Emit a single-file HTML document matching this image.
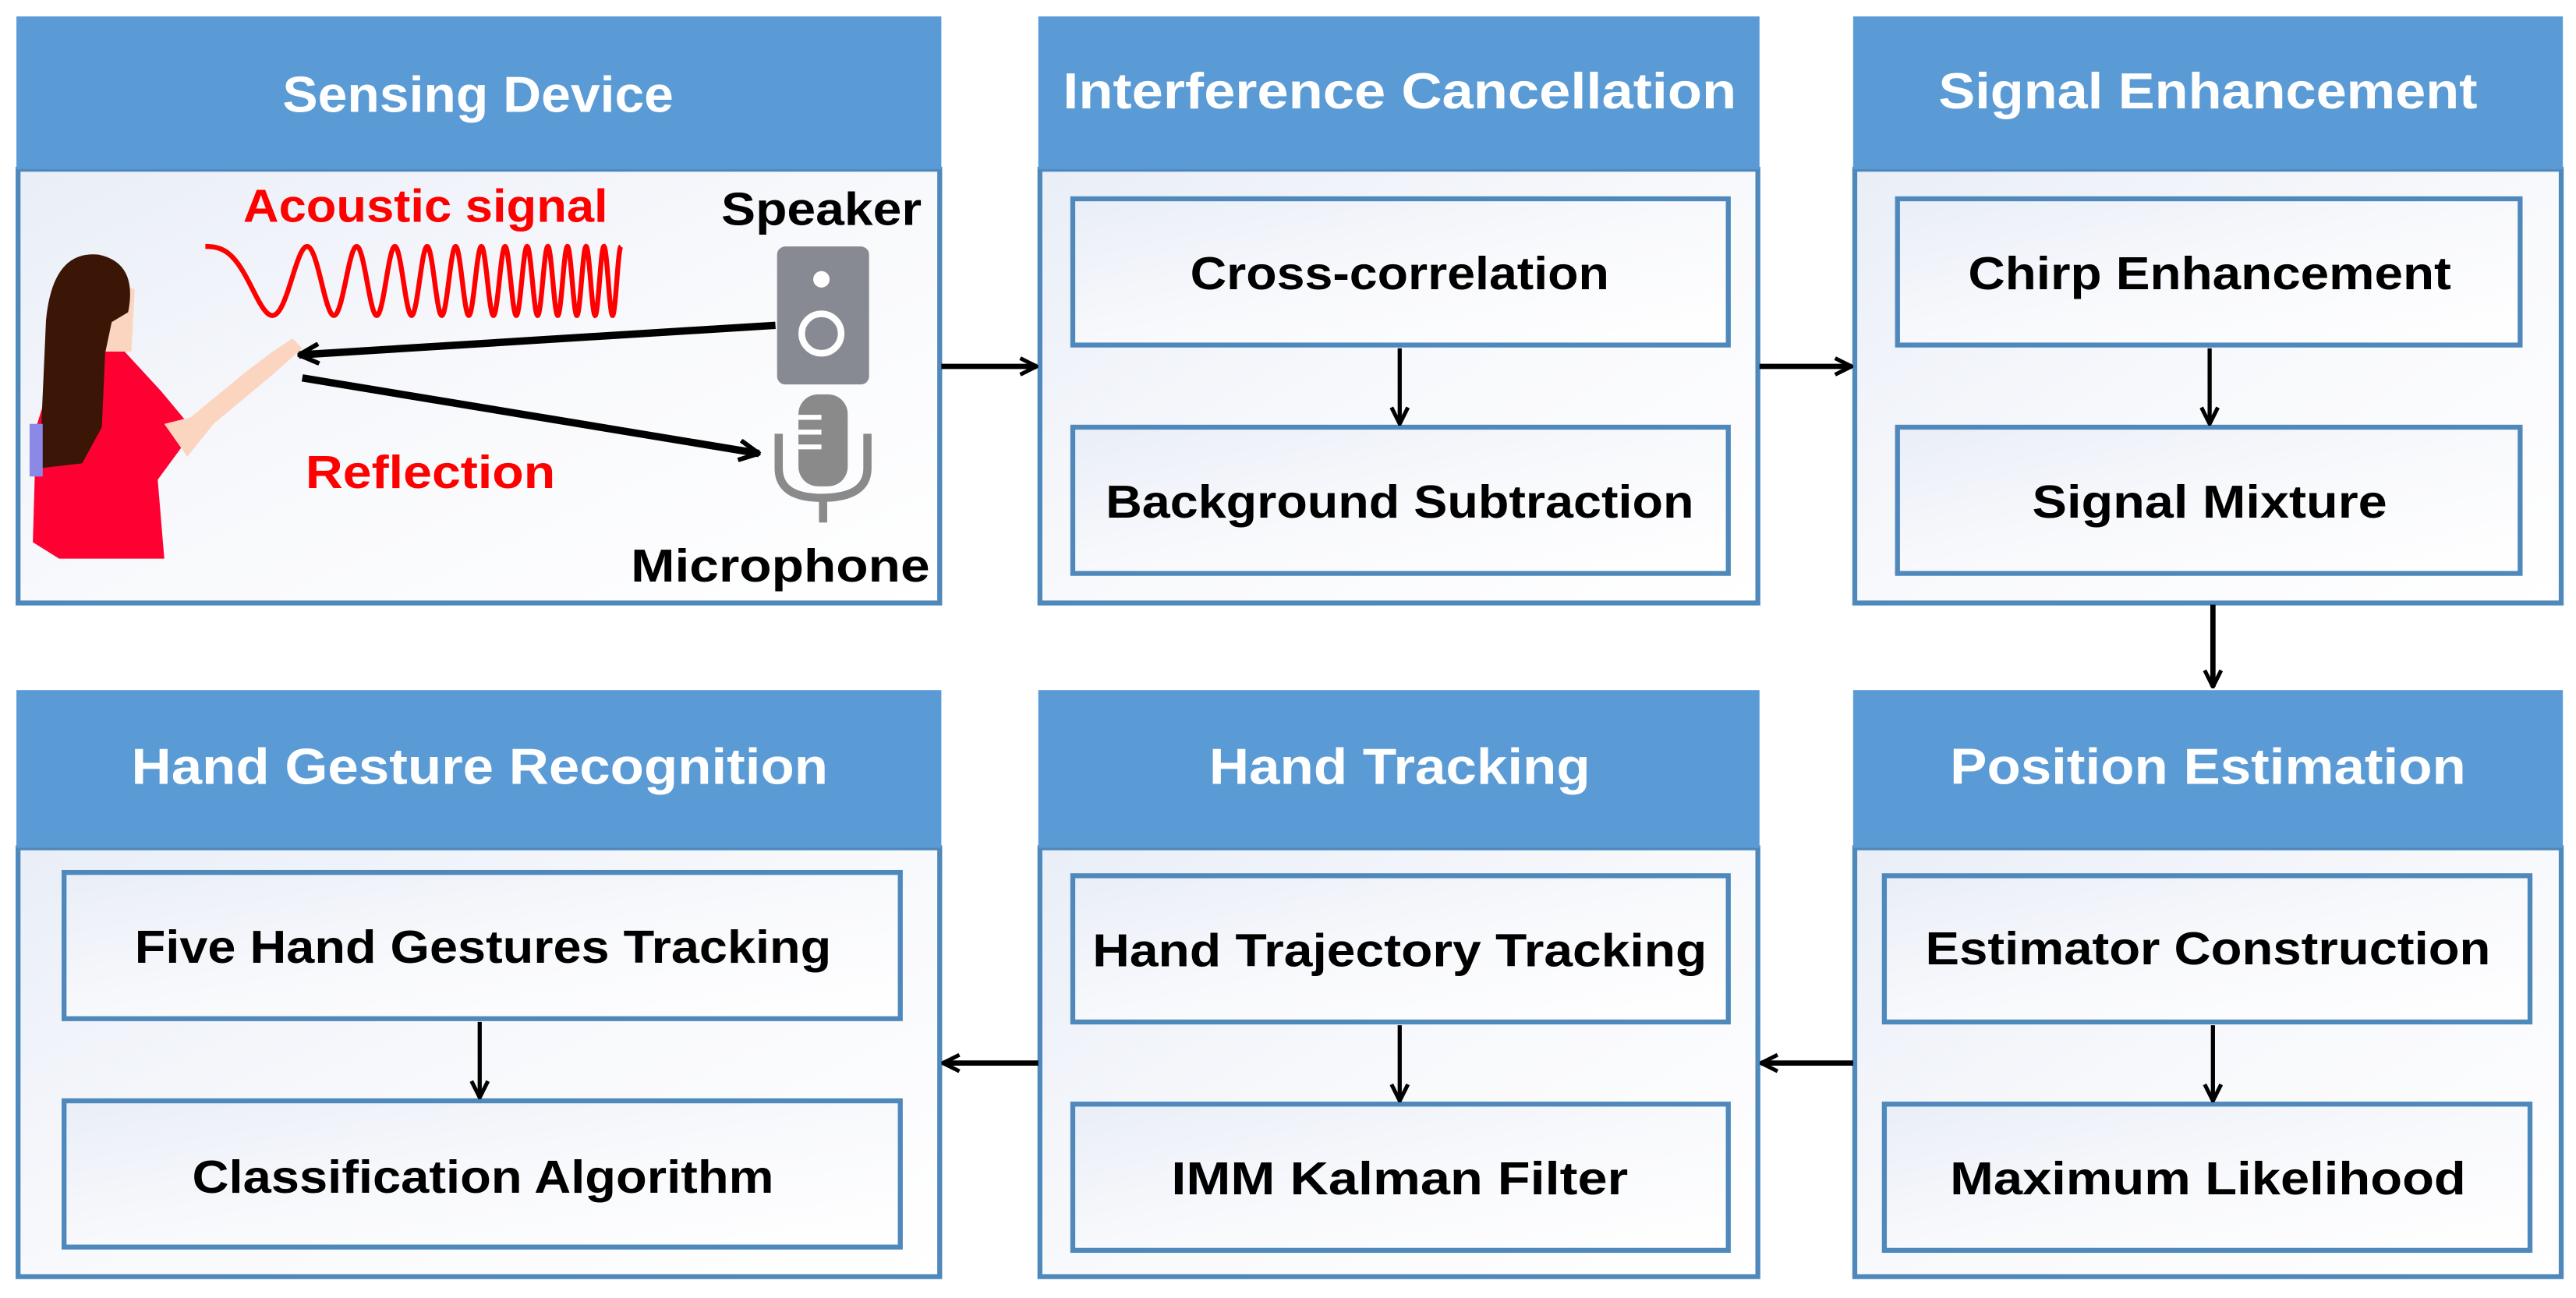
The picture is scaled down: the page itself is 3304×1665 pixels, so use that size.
<!DOCTYPE html>
<html><head><meta charset="utf-8"><style>
html,body{margin:0;padding:0;background:#fff;}
svg{display:block;}
text{font-family:"Liberation Sans",sans-serif;font-weight:bold;}
</style></head><body>
<svg width="3304" height="1665" viewBox="0 0 1568 790" preserveAspectRatio="none" xmlns="http://www.w3.org/2000/svg">
<defs>
<linearGradient id="g" x1="0" y1="0" x2="1" y2="1"><stop offset="0" stop-color="#e9eef7"/><stop offset="0.5" stop-color="#f8f9fc"/><stop offset="1" stop-color="#ffffff"/></linearGradient>
<marker id="ah" viewBox="0 0 12 12" refX="11" refY="6" markerWidth="12" markerHeight="12" markerUnits="userSpaceOnUse" orient="auto"><path d="M1,1 L11,6 L1,11" fill="none" stroke="#000" stroke-width="2.4"/></marker>
<marker id="ah2" viewBox="0 0 14 14" refX="13" refY="7" markerWidth="14" markerHeight="14" markerUnits="userSpaceOnUse" orient="auto"><path d="M1,1 L13,7 L1,13" fill="none" stroke="#000" stroke-width="2.8"/></marker>
</defs>

<g stroke="#4f88bb" stroke-width="3">
<rect x="11" y="103" width="561" height="264" fill="url(#g)"/>
<rect x="633" y="103" width="437" height="264" fill="url(#g)"/>
<rect x="1129" y="103" width="430" height="264" fill="url(#g)"/>
<rect x="11" y="516" width="561" height="261" fill="url(#g)"/>
<rect x="633" y="516" width="437" height="261" fill="url(#g)"/>
<rect x="1129" y="516" width="430" height="261" fill="url(#g)"/>
</g>
<g fill="#5b9bd5">
<rect x="10" y="10" width="563" height="93"/>
<rect x="632" y="10" width="439" height="93"/>
<rect x="1128" y="10" width="432" height="93"/>
<rect x="10" y="420" width="563" height="96"/>
<rect x="632" y="420" width="439" height="96"/>
<rect x="1128" y="420" width="432" height="96"/>
</g>
<g fill="#fff" font-size="31" text-anchor="middle">
<text x="291" y="68" textLength="238" lengthAdjust="spacingAndGlyphs">Sensing Device</text>
<text x="852" y="66" textLength="410" lengthAdjust="spacingAndGlyphs">Interference Cancellation</text>
<text x="1344" y="66" textLength="328" lengthAdjust="spacingAndGlyphs">Signal Enhancement</text>
<text x="292" y="477" textLength="424" lengthAdjust="spacingAndGlyphs">Hand Gesture Recognition</text>
<text x="852" y="477" textLength="232" lengthAdjust="spacingAndGlyphs">Hand Tracking</text>
<text x="1344" y="477" textLength="314" lengthAdjust="spacingAndGlyphs">Position Estimation</text>
</g>

<g stroke="#4f88bb" stroke-width="3" fill="url(#g)">
<rect x="653" y="121" width="399" height="89"/>
<rect x="653" y="260" width="399" height="89"/>
<rect x="1155" y="121" width="379" height="89"/>
<rect x="1155" y="260" width="379" height="89"/>
<rect x="39" y="531" width="509" height="89"/>
<rect x="39" y="670" width="509" height="89"/>
<rect x="653" y="533" width="399" height="89"/>
<rect x="653" y="672" width="399" height="89"/>
<rect x="1147" y="533" width="393" height="89"/>
<rect x="1147" y="672" width="393" height="89"/>
</g>
<g fill="#000" font-size="28" text-anchor="middle">
<text x="852" y="176" textLength="255" lengthAdjust="spacingAndGlyphs">Cross-correlation</text>
<text x="852" y="315" textLength="358" lengthAdjust="spacingAndGlyphs">Background Subtraction</text>
<text x="1345" y="176" textLength="294" lengthAdjust="spacingAndGlyphs">Chirp Enhancement</text>
<text x="1345" y="315" textLength="216" lengthAdjust="spacingAndGlyphs">Signal Mixture</text>
<text x="294" y="586" textLength="424" lengthAdjust="spacingAndGlyphs">Five Hand Gestures Tracking</text>
<text x="294" y="726" textLength="354" lengthAdjust="spacingAndGlyphs">Classification Algorithm</text>
<text x="852" y="588" textLength="374" lengthAdjust="spacingAndGlyphs">Hand Trajectory Tracking</text>
<text x="852" y="727" textLength="278" lengthAdjust="spacingAndGlyphs">IMM Kalman Filter</text>
<text x="1344" y="587" textLength="344" lengthAdjust="spacingAndGlyphs">Estimator Construction</text>
<text x="1344" y="727" textLength="314" lengthAdjust="spacingAndGlyphs">Maximum Likelihood</text>
</g>

<g stroke="#000" stroke-width="3.2" fill="none">
<line x1="573" y1="223" x2="631" y2="223" marker-end="url(#ah)"/>
<line x1="1071" y1="223" x2="1127" y2="223" marker-end="url(#ah)"/>
<line x1="1347" y1="368" x2="1347" y2="418" marker-end="url(#ah)"/>
<line x1="1128" y1="647" x2="1072" y2="647" marker-end="url(#ah)"/>
<line x1="632" y1="647" x2="574" y2="647" marker-end="url(#ah)"/>
<g stroke-width="2.5">
<line x1="852" y1="212" x2="852" y2="258" marker-end="url(#ah)"/>
<line x1="1345" y1="212" x2="1345" y2="258" marker-end="url(#ah)"/>
<line x1="292" y1="622" x2="292" y2="668" marker-end="url(#ah)"/>
<line x1="852" y1="624" x2="852" y2="670" marker-end="url(#ah)"/>
<line x1="1347" y1="624" x2="1347" y2="670" marker-end="url(#ah)"/>
</g>
</g>

<text x="259" y="135" fill="#ff0000" font-size="28" text-anchor="middle" textLength="222" lengthAdjust="spacingAndGlyphs">Acoustic signal</text>
<text x="262" y="297" fill="#ff0000" font-size="28" text-anchor="middle" textLength="152" lengthAdjust="spacingAndGlyphs">Reflection</text>
<text x="500" y="137" fill="#000" font-size="28" text-anchor="middle" textLength="122" lengthAdjust="spacingAndGlyphs">Speaker</text>
<text x="475" y="354" fill="#000" font-size="28" text-anchor="middle" textLength="182" lengthAdjust="spacingAndGlyphs">Microphone</text>
<path id="chirp" d="" fill="none" stroke="#ff0000" stroke-width="3"/>
<rect x="473" y="150" width="56" height="84" rx="5" fill="#888a93"/>
<circle cx="500" cy="170" r="5" fill="#fff"/>
<circle cx="500" cy="203" r="12" fill="none" stroke="#fff" stroke-width="4"/>
<rect x="486" y="240" width="30" height="56" rx="12" fill="#8a8a8a"/>
<g stroke="#fff" stroke-width="3"><line x1="486" y1="254" x2="500" y2="254"/><line x1="486" y1="263" x2="500" y2="263"/><line x1="486" y1="272" x2="500" y2="272"/></g>
<path d="M474,264 L474,285 Q474,303 500,303 Q528,303 528,285 L528,264" fill="none" stroke="#8a8a8a" stroke-width="5"/>
<line x1="501" y1="303" x2="501" y2="318" stroke="#8a8a8a" stroke-width="5"/>
<line x1="472" y1="198" x2="182" y2="216" stroke="#000" stroke-width="4.5" marker-end="url(#ah2)"/>
<line x1="184" y1="230" x2="462" y2="276" stroke="#000" stroke-width="4.5" marker-end="url(#ah2)"/>
<!-- woman -->
<path d="M20,330 L22,260 L36,215 L74,212 L98,238 L118,262 L96,292 L100,340 L36,340 Z" fill="#ff0033"/>
<path d="M100,258 L114,278 L130,258 L166,228 L184,212 L178,206 L166,214 L150,226 L116,254 Z" fill="#fcd5c1"/>
<path d="M58,170 L82,176 L80,214 L60,214 Z" fill="#fcd5c1"/>
<path d="M24,285 L28,195 Q32,152 60,155 Q84,160 78,190 L68,196 L64,215 L62,260 L50,282 Z" fill="#3b1606"/>
<path d="M18,258 L26,258 L26,290 L18,290 Z" fill="#8a8ae6"/>
</svg>
<script>
(function(){
var d="",x0=125,x1=378,yc=171,a=21;
var n=1200;
for(var i=0;i<=n;i++){var t=i/n;var x=x0+(x1-x0)*t;var ph=2*Math.PI*(1.2*t+11.8*t*t);var y=yc-a*Math.cos(ph);d+=(i?"L":"M")+x.toFixed(2)+","+y.toFixed(2);}
document.getElementById("chirp").setAttribute("d",d);
})();
</script>
</body></html>
